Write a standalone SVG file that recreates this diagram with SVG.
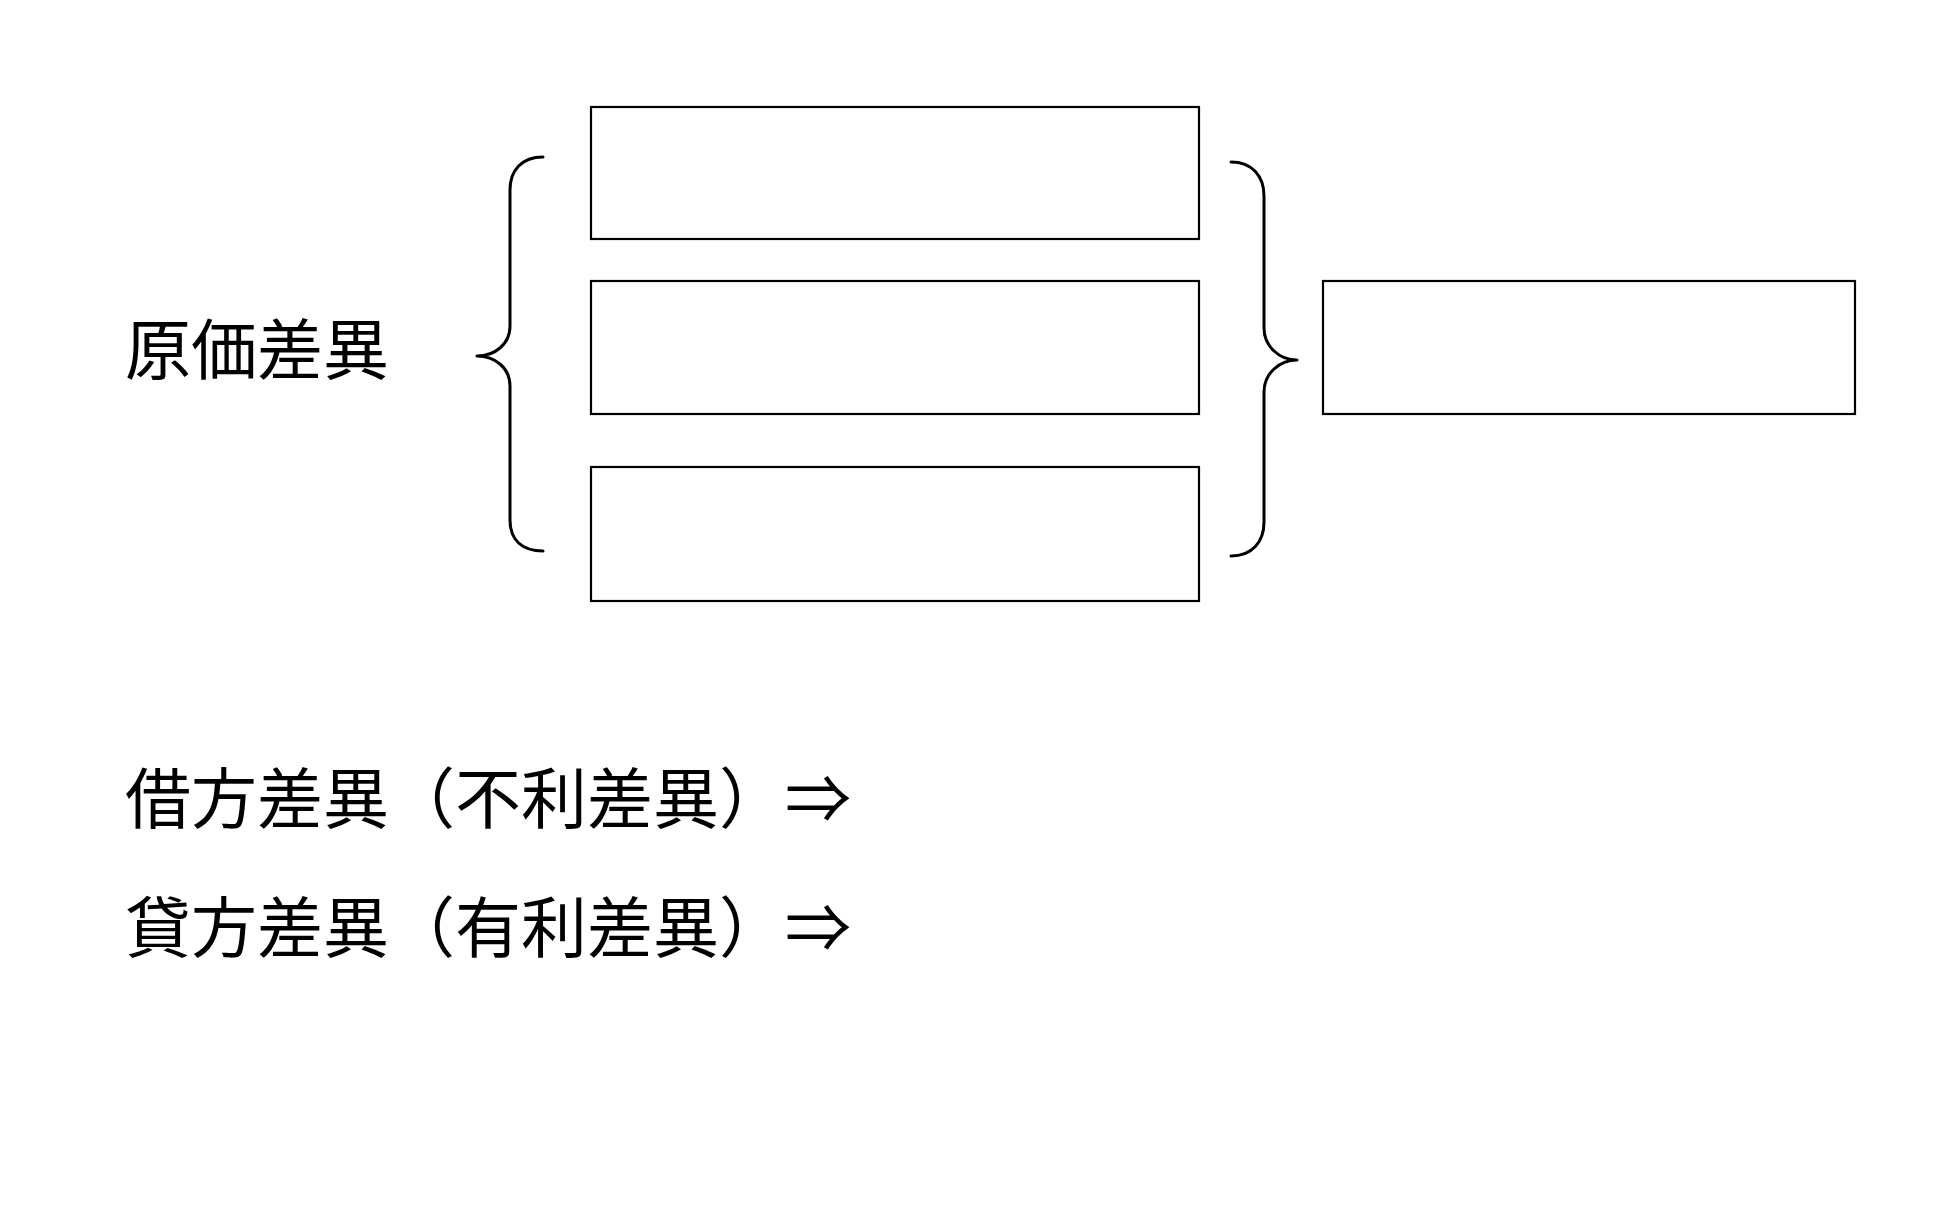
<svg xmlns="http://www.w3.org/2000/svg" width="1949" height="1216" viewBox="0 0 1949 1216">
<style>
.box{fill:#fff;stroke:#000;stroke-width:2.2}
.brace{fill:none;stroke:#000;stroke-width:3;stroke-linecap:round;stroke-linejoin:round}
.t{font-family:"Liberation Serif","Noto Sans CJK JP",serif;font-size:66px;fill:#000}
</style>
<rect width="1949" height="1216" fill="#fff"/>
<g id="label-genka"><text class="t" x="125" y="374">原価差異</text></g>
<g id="box1"><rect class="box" x="591" y="107" width="608" height="132"/></g>
<g id="box2"><rect class="box" x="591" y="281" width="608" height="133"/></g>
<g id="box3"><rect class="box" x="591" y="467" width="608" height="134"/></g>
<g id="box-total"><rect class="box" x="1323" y="281" width="532" height="133"/></g>
<g id="connectors">
<path class="brace" d="M543,157 C522,157 510,170 510,190 L510,326 C510,344 495,356 477,356 C495,356 510,368 510,386 L510,520 C510,540 522,551 543,551"/>
<path class="brace" d="M1231,162 C1252,162 1264,176 1264,196 L1264,328 C1264,346 1279,360 1297,360 C1279,360 1264,374 1264,392 L1264,522 C1264,542 1252,556 1231,556"/>
</g>
<g id="label-debit"><text class="t" x="125" y="823">借方差異（不利差異）⇒</text></g>
<g id="label-credit"><text class="t" x="125" y="952">貸方差異（有利差異）⇒</text></g>
</svg>
